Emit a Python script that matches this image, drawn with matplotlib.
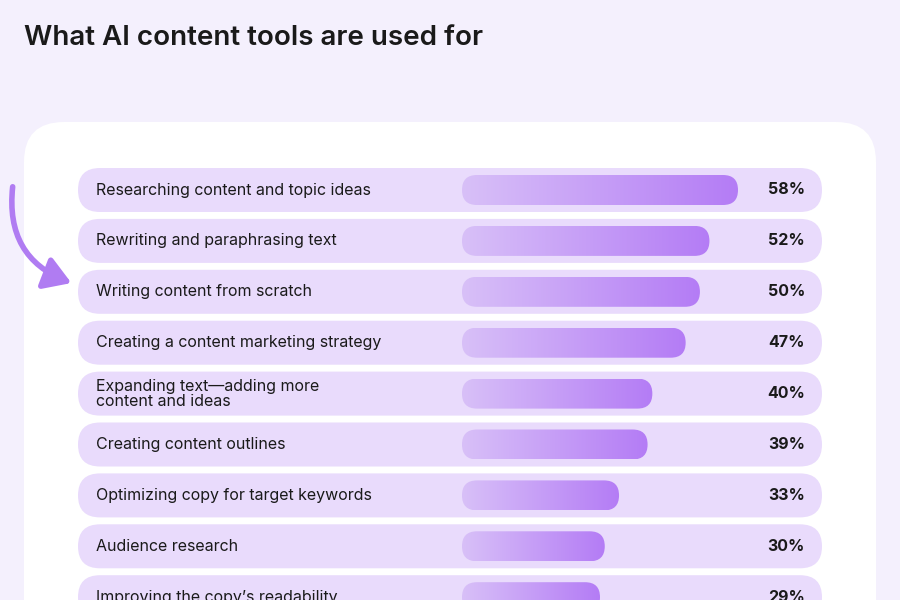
import numpy as np
import matplotlib.pyplot as plt
from matplotlib.patches import FancyBboxPatch, FancyArrowPatch
from matplotlib.colors import LinearSegmentedColormap

labels = [
    "Researching content and topic ideas",
    "Rewriting and paraphrasing text",
    "Writing content from scratch",
    "Creating a content marketing strategy",
    "Expanding text\u2014adding more\ncontent and ideas",
    "Creating content outlines",
    "Optimizing copy for target keywords",
    "Audience research",
    "Improving the copy\u2019s readability",
]
values = [58, 52, 50, 47, 40, 39, 33, 30, 29]

plt.rcParams["font.family"] = "Inter"

fig = plt.figure(figsize=(9, 6), dpi=100)
fig.patch.set_facecolor("#F4F0FD")
ax = fig.add_axes([0, 0, 1, 1])
ax.set_xlim(0, 900)
ax.set_ylim(600, 0)
ax.axis("off")

fig.text(24 / 900, 1 - 38 / 600, "What AI content tools are used for", fontsize=20,
         fontweight="semibold", color="#1A1A1A", va="center")

# white card
ax.add_patch(FancyBboxPatch((24, 122), 852, 600, boxstyle="round,pad=0,rounding_size=40",
                            fc="white", ec="none"))

cmap = LinearSegmentedColormap.from_list("pur", ["#D8C0F8", "#B47CF5"])
grad = np.linspace(0, 1, 256).reshape(1, -1)
px_per_pct = 276 / 58
bar_x0 = 462

for i, (lab, val) in enumerate(zip(labels, values)):
    yc = 190 + i * 50.9
    ax.add_patch(FancyBboxPatch((78, yc - 22), 744, 44, boxstyle="round,pad=0,rounding_size=22",
                                fc="#E9DBFC", ec="none"))
    w = val * px_per_pct
    clip = FancyBboxPatch((bar_x0, yc - 15), w, 30, boxstyle="round,pad=0,rounding_size=15",
                          fc="none", ec="none")
    ax.add_patch(clip)
    im = ax.imshow(grad, cmap=cmap, extent=(bar_x0, bar_x0 + w, yc + 15, yc - 15),
                   aspect="auto", zorder=3)
    im.set_clip_path(clip)
    ax.text(96, yc, lab, fontsize=11.5, va="center", ha="left", color="#1A1A1A",
            linespacing=1.0)
    ax.text(805, yc, f"{val}%", fontsize=11.5, fontweight="bold", va="center", ha="right",
            color="#1A1A1A")

ax.set_xlim(0, 900)
ax.set_ylim(600, 0)

arrow = FancyArrowPatch((13, 184), (74, 284), connectionstyle="arc3,rad=0.4",
                        arrowstyle="-|>,head_length=16,head_width=10", color="#B07CF2",
                        lw=4, mutation_scale=1)
ax.add_patch(arrow)

fig.savefig("out.png", dpi=100, facecolor=fig.get_facecolor())
